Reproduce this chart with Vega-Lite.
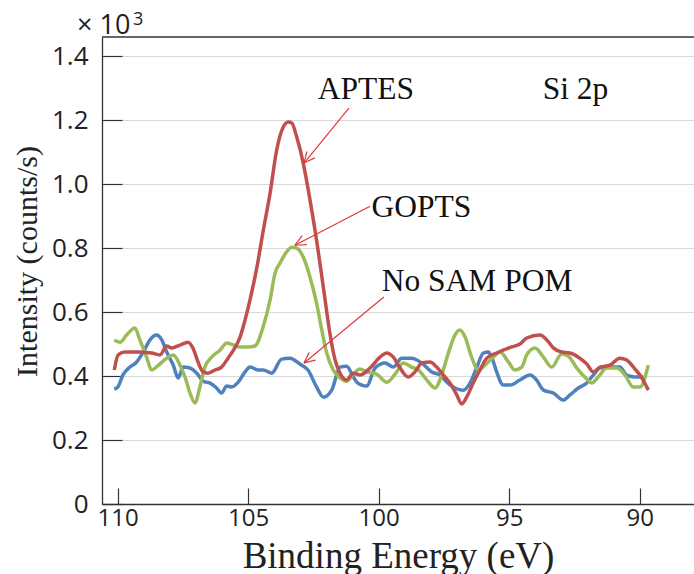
{
  "$schema": "https://vega.github.io/schema/vega-lite/v6.json",
  "width": 592,
  "height": 467,
  "autosize": {"type": "none"},
  "padding": {"left": 102, "top": 37, "right": 0, "bottom": 70},
  "background": "white",
  "config": {"view": {"stroke": null}},
  "datasets": {
    "curves": [
      {"s":"No SAM POM","e":110.13,"i":0.359},{"s":"No SAM POM","e":109.99,"i":0.366},{"s":"No SAM POM","e":109.80,"i":0.403},{"s":"No SAM POM","e":109.53,"i":0.428},{"s":"No SAM POM","e":109.27,"i":0.444},{"s":"No SAM POM","e":109.02,"i":0.475},{"s":"No SAM POM","e":108.76,"i":0.513},{"s":"No SAM POM","e":108.51,"i":0.528},{"s":"No SAM POM","e":108.31,"i":0.513},{"s":"No SAM POM","e":108.12,"i":0.475},{"s":"No SAM POM","e":107.87,"i":0.434},{"s":"No SAM POM","e":107.68,"i":0.394},{"s":"No SAM POM","e":107.49,"i":0.428},{"s":"No SAM POM","e":107.23,"i":0.425},{"s":"No SAM POM","e":106.97,"i":0.409},{"s":"No SAM POM","e":106.72,"i":0.384},{"s":"No SAM POM","e":106.46,"i":0.378},{"s":"No SAM POM","e":106.21,"i":0.3625},{"s":"No SAM POM","e":106.02,"i":0.347},{"s":"No SAM POM","e":105.82,"i":0.369},{"s":"No SAM POM","e":105.63,"i":0.366},{"s":"No SAM POM","e":105.38,"i":0.381},{"s":"No SAM POM","e":105.12,"i":0.413},{"s":"No SAM POM","e":104.93,"i":0.428},{"s":"No SAM POM","e":104.61,"i":0.419},{"s":"No SAM POM","e":104.42,"i":0.419},{"s":"No SAM POM","e":104.10,"i":0.409},{"s":"No SAM POM","e":103.72,"i":0.453},{"s":"No SAM POM","e":103.40,"i":0.456},{"s":"No SAM POM","e":103.02,"i":0.4375},{"s":"No SAM POM","e":102.71,"i":0.419},{"s":"No SAM POM","e":102.38,"i":0.366},{"s":"No SAM POM","e":102.12,"i":0.334},{"s":"No SAM POM","e":101.80,"i":0.356},{"s":"No SAM POM","e":101.48,"i":0.428},{"s":"No SAM POM","e":101.23,"i":0.431},{"s":"No SAM POM","e":100.97,"i":0.397},{"s":"No SAM POM","e":100.84,"i":0.381},{"s":"No SAM POM","e":100.65,"i":0.372},{"s":"No SAM POM","e":100.46,"i":0.369},{"s":"No SAM POM","e":100.14,"i":0.425},{"s":"No SAM POM","e":99.76,"i":0.441},{"s":"No SAM POM","e":99.44,"i":0.428},{"s":"No SAM POM","e":99.12,"i":0.456},{"s":"No SAM POM","e":98.74,"i":0.456},{"s":"No SAM POM","e":98.35,"i":0.441},{"s":"No SAM POM","e":97.97,"i":0.413},{"s":"No SAM POM","e":97.65,"i":0.403},{"s":"No SAM POM","e":97.39,"i":0.381},{"s":"No SAM POM","e":97.08,"i":0.3625},{"s":"No SAM POM","e":96.76,"i":0.356},{"s":"No SAM POM","e":96.50,"i":0.378},{"s":"No SAM POM","e":96.25,"i":0.425},{"s":"No SAM POM","e":95.99,"i":0.472},{"s":"No SAM POM","e":95.80,"i":0.475},{"s":"No SAM POM","e":95.67,"i":0.459},{"s":"No SAM POM","e":95.48,"i":0.413},{"s":"No SAM POM","e":95.23,"i":0.372},{"s":"No SAM POM","e":94.97,"i":0.372},{"s":"No SAM POM","e":94.59,"i":0.3875},{"s":"No SAM POM","e":94.20,"i":0.403},{"s":"No SAM POM","e":93.95,"i":0.3875},{"s":"No SAM POM","e":93.69,"i":0.356},{"s":"No SAM POM","e":93.31,"i":0.347},{"s":"No SAM POM","e":92.93,"i":0.325},{"s":"No SAM POM","e":92.67,"i":0.341},{"s":"No SAM POM","e":92.35,"i":0.3625},{"s":"No SAM POM","e":92.03,"i":0.378},{"s":"No SAM POM","e":91.78,"i":0.403},{"s":"No SAM POM","e":91.52,"i":0.425},{"s":"No SAM POM","e":91.14,"i":0.428},{"s":"No SAM POM","e":90.76,"i":0.428},{"s":"No SAM POM","e":90.50,"i":0.403},{"s":"No SAM POM","e":90.18,"i":0.397},{"s":"No SAM POM","e":89.86,"i":0.397},
      {"s":"GOPTS","e":110.13,"i":0.513},{"s":"GOPTS","e":109.91,"i":0.506},{"s":"GOPTS","e":109.66,"i":0.528},{"s":"GOPTS","e":109.34,"i":0.550},{"s":"GOPTS","e":109.15,"i":0.513},{"s":"GOPTS","e":108.89,"i":0.459},{"s":"GOPTS","e":108.70,"i":0.419},{"s":"GOPTS","e":108.44,"i":0.434},{"s":"GOPTS","e":108.12,"i":0.456},{"s":"GOPTS","e":107.87,"i":0.466},{"s":"GOPTS","e":107.61,"i":0.434},{"s":"GOPTS","e":107.42,"i":0.397},{"s":"GOPTS","e":107.23,"i":0.347},{"s":"GOPTS","e":107.04,"i":0.316},{"s":"GOPTS","e":106.85,"i":0.366},{"s":"GOPTS","e":106.66,"i":0.428},{"s":"GOPTS","e":106.40,"i":0.459},{"s":"GOPTS","e":106.08,"i":0.481},{"s":"GOPTS","e":105.82,"i":0.503},{"s":"GOPTS","e":105.57,"i":0.497},{"s":"GOPTS","e":105.31,"i":0.491},{"s":"GOPTS","e":105.00,"i":0.491},{"s":"GOPTS","e":104.74,"i":0.494},{"s":"GOPTS","e":104.43,"i":0.553},{"s":"GOPTS","e":104.16,"i":0.638},{"s":"GOPTS","e":103.97,"i":0.722},{"s":"GOPTS","e":103.78,"i":0.753},{"s":"GOPTS","e":103.53,"i":0.788},{"s":"GOPTS","e":103.33,"i":0.803},{"s":"GOPTS","e":103.14,"i":0.800},{"s":"GOPTS","e":102.89,"i":0.772},{"s":"GOPTS","e":102.63,"i":0.709},{"s":"GOPTS","e":102.38,"i":0.628},{"s":"GOPTS","e":102.18,"i":0.544},{"s":"GOPTS","e":101.99,"i":0.472},{"s":"GOPTS","e":101.74,"i":0.419},{"s":"GOPTS","e":101.48,"i":0.394},{"s":"GOPTS","e":101.23,"i":0.384},{"s":"GOPTS","e":100.97,"i":0.406},{"s":"GOPTS","e":100.72,"i":0.422},{"s":"GOPTS","e":100.46,"i":0.413},{"s":"GOPTS","e":100.08,"i":0.406},{"s":"GOPTS","e":99.69,"i":0.381},{"s":"GOPTS","e":99.31,"i":0.413},{"s":"GOPTS","e":99.06,"i":0.441},{"s":"GOPTS","e":98.74,"i":0.428},{"s":"GOPTS","e":98.48,"i":0.419},{"s":"GOPTS","e":98.16,"i":0.388},{"s":"GOPTS","e":97.84,"i":0.3625},{"s":"GOPTS","e":97.59,"i":0.403},{"s":"GOPTS","e":97.33,"i":0.472},{"s":"GOPTS","e":97.08,"i":0.528},{"s":"GOPTS","e":96.89,"i":0.544},{"s":"GOPTS","e":96.69,"i":0.522},{"s":"GOPTS","e":96.44,"i":0.459},{"s":"GOPTS","e":96.18,"i":0.419},{"s":"GOPTS","e":95.93,"i":0.434},{"s":"GOPTS","e":95.61,"i":0.459},{"s":"GOPTS","e":95.35,"i":0.475},{"s":"GOPTS","e":95.03,"i":0.444},{"s":"GOPTS","e":94.78,"i":0.419},{"s":"GOPTS","e":94.52,"i":0.428},{"s":"GOPTS","e":94.33,"i":0.466},{"s":"GOPTS","e":94.01,"i":0.4875},{"s":"GOPTS","e":93.69,"i":0.459},{"s":"GOPTS","e":93.37,"i":0.428},{"s":"GOPTS","e":92.99,"i":0.469},{"s":"GOPTS","e":92.74,"i":0.4625},{"s":"GOPTS","e":92.41,"i":0.425},{"s":"GOPTS","e":92.03,"i":0.391},{"s":"GOPTS","e":91.84,"i":0.378},{"s":"GOPTS","e":91.59,"i":0.397},{"s":"GOPTS","e":91.26,"i":0.425},{"s":"GOPTS","e":90.88,"i":0.425},{"s":"GOPTS","e":90.56,"i":0.403},{"s":"GOPTS","e":90.25,"i":0.366},{"s":"GOPTS","e":89.99,"i":0.366},{"s":"GOPTS","e":89.67,"i":0.434},
      {"s":"APTES","e":110.13,"i":0.419},{"s":"APTES","e":109.98,"i":0.466},{"s":"APTES","e":109.72,"i":0.475},{"s":"APTES","e":109.22,"i":0.475},{"s":"APTES","e":108.70,"i":0.472},{"s":"APTES","e":108.38,"i":0.466},{"s":"APTES","e":108.12,"i":0.494},{"s":"APTES","e":107.93,"i":0.488},{"s":"APTES","e":107.61,"i":0.497},{"s":"APTES","e":107.30,"i":0.506},{"s":"APTES","e":107.12,"i":0.488},{"s":"APTES","e":106.92,"i":0.444},{"s":"APTES","e":106.73,"i":0.413},{"s":"APTES","e":106.54,"i":0.409},{"s":"APTES","e":106.27,"i":0.419},{"s":"APTES","e":106.02,"i":0.428},{"s":"APTES","e":105.77,"i":0.456},{"s":"APTES","e":105.51,"i":0.488},{"s":"APTES","e":105.31,"i":0.522},{"s":"APTES","e":105.12,"i":0.575},{"s":"APTES","e":104.93,"i":0.638},{"s":"APTES","e":104.67,"i":0.738},{"s":"APTES","e":104.42,"i":0.856},{"s":"APTES","e":104.16,"i":0.972},{"s":"APTES","e":103.91,"i":1.106},{"s":"APTES","e":103.66,"i":1.178},{"s":"APTES","e":103.46,"i":1.194},{"s":"APTES","e":103.33,"i":1.191},{"s":"APTES","e":103.14,"i":1.147},{"s":"APTES","e":102.89,"i":1.066},{"s":"APTES","e":102.63,"i":0.950},{"s":"APTES","e":102.38,"i":0.825},{"s":"APTES","e":102.12,"i":0.678},{"s":"APTES","e":101.87,"i":0.534},{"s":"APTES","e":101.67,"i":0.450},{"s":"APTES","e":101.48,"i":0.409},{"s":"APTES","e":101.23,"i":0.388},{"s":"APTES","e":100.97,"i":0.409},{"s":"APTES","e":100.72,"i":0.403},{"s":"APTES","e":100.33,"i":0.425},{"s":"APTES","e":99.95,"i":0.459},{"s":"APTES","e":99.69,"i":0.472},{"s":"APTES","e":99.44,"i":0.459},{"s":"APTES","e":99.18,"i":0.425},{"s":"APTES","e":98.87,"i":0.397},{"s":"APTES","e":98.61,"i":0.413},{"s":"APTES","e":98.35,"i":0.441},{"s":"APTES","e":98.03,"i":0.444},{"s":"APTES","e":97.78,"i":0.428},{"s":"APTES","e":97.52,"i":0.403},{"s":"APTES","e":97.27,"i":0.378},{"s":"APTES","e":97.01,"i":0.341},{"s":"APTES","e":96.82,"i":0.313},{"s":"APTES","e":96.63,"i":0.334},{"s":"APTES","e":96.38,"i":0.378},{"s":"APTES","e":96.12,"i":0.419},{"s":"APTES","e":95.86,"i":0.456},{"s":"APTES","e":95.48,"i":0.472},{"s":"APTES","e":95.23,"i":0.481},{"s":"APTES","e":94.90,"i":0.491},{"s":"APTES","e":94.59,"i":0.500},{"s":"APTES","e":94.33,"i":0.519},{"s":"APTES","e":93.82,"i":0.528},{"s":"APTES","e":93.56,"i":0.513},{"s":"APTES","e":93.31,"i":0.488},{"s":"APTES","e":92.99,"i":0.475},{"s":"APTES","e":92.67,"i":0.472},{"s":"APTES","e":92.35,"i":0.459},{"s":"APTES","e":92.03,"i":0.438},{"s":"APTES","e":91.78,"i":0.413},{"s":"APTES","e":91.52,"i":0.428},{"s":"APTES","e":91.14,"i":0.434},{"s":"APTES","e":90.76,"i":0.456},{"s":"APTES","e":90.50,"i":0.450},{"s":"APTES","e":90.18,"i":0.422},{"s":"APTES","e":89.99,"i":0.403},{"s":"APTES","e":89.67,"i":0.356}
    ],
    "labels": [
      {"t":"APTES","e":100.49,"i":1.266},
      {"t":"Si 2p","e":92.46,"i":1.266},
      {"t":"GOPTS","e":98.36,"i":0.897},
      {"t":"No SAM POM","e":96.23,"i":0.666}
    ],
    "arrows": [
      {"e":101.14,"i":1.2375,"e2":102.86,"i2":1.066},
      {"e":102.45,"i":1.082,"e2":102.86,"i2":1.066},
      {"e":102.75,"i":1.102,"e2":102.86,"i2":1.066},
      {"e":100.33,"i":0.931,"e2":103.21,"i2":0.809},
      {"e":102.75,"i":0.811,"e2":103.21,"i2":0.809},
      {"e":102.93,"i":0.839,"e2":103.21,"i2":0.809},
      {"e":99.80,"i":0.647,"e2":102.86,"i2":0.441},
      {"e":102.42,"i":0.450,"e2":102.86,"i2":0.441},
      {"e":102.66,"i":0.474,"e2":102.86,"i2":0.441}
    ]
  },
  "layer": [
    {
      "data": {"name": "curves"},
      "mark": {"type": "line", "strokeWidth": 3.5, "interpolate": "monotone", "clip": true},
      "encoding": {
        "x": {"field": "e", "type": "quantitative",
          "scale": {"domain": [87.92, 110.6], "reverse": true, "nice": false, "zero": false},
          "axis": {"values": [110, 105, 100, 95, 90], "grid": false, "tickSize": -16, "tickColor": "#333", "tickWidth": 1.2,
            "domainColor": "#333", "domainWidth": 1.3, "labelFont": "Open Sans", "labelFontSize": 24, "labelColor": "#222", "labelPadding": 18, "labelFlush": false, "labelOverlap": false,
            "title": "Binding Energy (eV)", "titleFont": "Liberation Serif", "titleFontSize": 37, "titleFontWeight": "normal", "titleColor": "#222", "titleBaseline": "alphabetic", "titleY": 63}},
        "y": {"field": "i", "type": "quantitative",
          "scale": {"domain": [0, 1.46], "nice": false, "zero": true},
          "axis": {"values": [0, 0.2, 0.4, 0.6, 0.8, 1.0, 1.2, 1.4], "labelExpr": "datum.value == 0 ? '0' : format(datum.value, '.1f')", "grid": true, "gridColor": "#d9d9d9", "gridWidth": 1.2,
            "tickSize": -20, "tickColor": "#333", "tickWidth": 1.2, "domainColor": "#333", "domainWidth": 1.3,
            "labelFont": "Open Sans", "labelFontSize": 26, "labelColor": "#222", "labelPadding": 34, "labelFlush": false, "labelOverlap": false,
            "title": "Intensity (counts/s)", "titleFont": "Liberation Serif", "titleFontSize": 30, "titleFontWeight": "normal", "titleColor": "#222", "titleBaseline": "alphabetic", "titleX": -66, "titleY": 224}},
        "color": {"field": "s", "type": "nominal", "scale": {"domain": ["No SAM POM", "GOPTS", "APTES"], "range": ["#4f81bd", "#9bbb59", "#c0504d"]}, "legend": null}
      }
    },
    {
      "data": {"values": [{}]},
      "mark": {"type": "rule", "color": "#333", "strokeWidth": 1.3},
      "encoding": {"y": {"datum": 1.46}}
    },
    {
      "data": {"values": [{"t": "× 10"}]},
      "mark": {"type": "text", "font": "Open Sans", "fontSize": 27, "color": "#222", "align": "left", "baseline": "alphabetic", "dx": -25, "dy": -3},
      "encoding": {"x": {"datum": 110.6}, "y": {"datum": 1.46}, "text": {"field": "t"}}
    },
    {
      "data": {"values": [{"t": "3"}]},
      "mark": {"type": "text", "font": "Open Sans", "fontSize": 18, "color": "#222", "align": "left", "baseline": "alphabetic", "dx": 31, "dy": -12},
      "encoding": {"x": {"datum": 110.6}, "y": {"datum": 1.46}, "text": {"field": "t"}}
    },
    {
      "data": {"name": "arrows"},
      "mark": {"type": "rule", "color": "#e0383c", "strokeWidth": 1.2},
      "encoding": {
        "x": {"field": "e", "type": "quantitative"},
        "y": {"field": "i", "type": "quantitative"},
        "x2": {"field": "e2"},
        "y2": {"field": "i2"}
      }
    },
    {
      "data": {"name": "labels"},
      "mark": {"type": "text", "font": "Liberation Serif", "fontSize": 31.5, "color": "#111", "align": "center", "baseline": "alphabetic"},
      "encoding": {
        "x": {"field": "e", "type": "quantitative"},
        "y": {"field": "i", "type": "quantitative"},
        "text": {"field": "t"}
      }
    }
  ]
}
